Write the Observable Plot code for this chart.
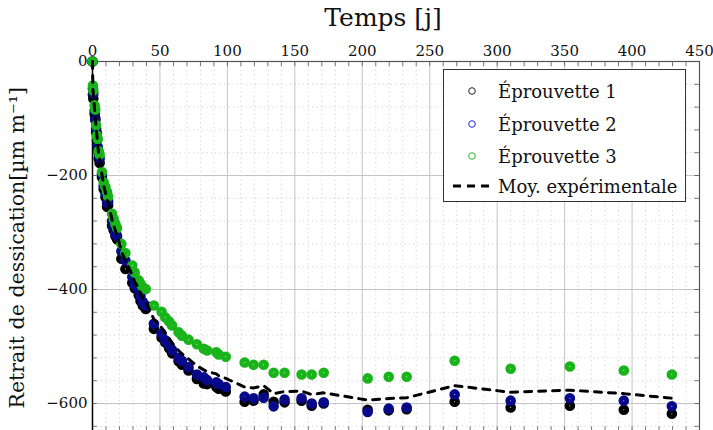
<!DOCTYPE html>
<html><head><meta charset="utf-8">
<script src="https://cdn.jsdelivr.net/npm/d3@7"></script>
<script src="https://cdn.jsdelivr.net/npm/@observablehq/plot@0.6"></script>
<style>
html,body{margin:0;padding:0;background:#fff;}
#wrap{position:relative;width:713px;height:430px;overflow:hidden;}
#legend{position:absolute;left:443px;top:69px;width:243px;height:133px;border:1px solid #333;background:#fff;box-sizing:border-box;font-family:"DejaVu Serif",serif;font-size:18px;color:#111;}
#legend .row{position:absolute;left:0;height:30px;display:flex;align-items:center;}
#legend svg{position:absolute;left:6px;}
#legend span{position:absolute;left:54px;white-space:nowrap;}
</style></head>
<body><div id="wrap"></div>
<script>
// Time (days)
const temps = [0, 0.3, 0.6, 1.6, 2.1, 2.7, 3.3, 3.9, 4.6, 5.3, 7, 8.3, 9.6, 10.8, 11.6, 14.5, 15.7, 17, 18.2, 21.4, 24.4,
  29.5, 31.3, 34.3, 35.6, 37.3, 39.5, 45.5, 51.2, 54, 56.8, 59, 63.8, 66.3, 71.2, 77.4, 82.5, 85, 91.8, 93.5, 98.8,
  112.8, 119.4, 126.9, 134.3, 142.4, 155, 162.5, 171.4, 204, 219.6, 232.9, 268.5, 310, 353.9, 393.9, 429.5];
// Éprouvette 1 (black)
const eprouvette1 = [0, -58, -65, -92, -100, -124, -138, -154, -170, -178, -203, -224, -238, -255, -252, -288, -296, -306, -312, -346, -364,
  -388, -398, -410, -420, -428, -434, -469, -484, -493, -503, -512, -526, -532, -542, -557, -565, -566, -571, -574, -579,
  -597, -595, -584, -597, -598, -595, -604, -600, -611, -612, -610, -597, -607, -604, -611, -618];
// Éprouvette 2 (blue)
const eprouvette2 = [0, -48, -56, -86, -103, -118, -126, -150, -162, -170, -198, -218, -232, -248, -246, -280, -290, -302, -306, -333, -349,
  -378, -392, -400, -412, -422, -428, -460, -477, -489, -498, -506, -520, -525, -536, -549, -554, -559, -563, -566, -571,
  -588, -591, -590, -605, -593, -591, -600, -598, -615, -609, -607, -584, -595, -591, -595, -605];
// Éprouvette 3 (green)
const eprouvette3 = [0, -42, -51, -77, -84, -112, -130, -136, -157, -163, -194, -212, -220, -229, -237, -267, -276, -285, -292, -320, -336,
  -358, -370, -384, -390, -396, -399, -428, -439, -449, -456, -463, -475, -481, -488, -496, -504, -507, -510, -514, -518,
  -528, -532, -532, -546, -546, -549, -549, -546, -556, -553, -553, -525, -539, -535, -542, -549];

const seriesNames = ["Éprouvette 1", "Éprouvette 2", "Éprouvette 3"];
const seriesColors = ["#000000", "#08088a", "#19b419"];
const xMajor = [0, 50, 100, 150, 200, 250, 300, 350, 400, 450];
const yMajor = [0, -200, -400, -600];

const series = [eprouvette1, eprouvette2, eprouvette3];
const rows = [];
series.forEach((vals, s) => vals.forEach((v, i) => rows.push({t: temps[i], v, s: seriesNames[s]})));
const moyenne = temps.map((t, i) => ({t, v: d3.mean(series, a => a[i])}));

const xMinor = d3.range(0, 451, 10).filter(d => d % 50 !== 0);
const yMinor = d3.range(-640, 0, 40).filter(d => d % 200 !== 0);
const xAllTicks = d3.range(0, 451, 10);
const yAllTicks = d3.range(-640, 1, 40);
const fmt = d => d < 0 ? "\u2212" + (-d) : String(d);

const chart = Plot.plot({
  width: 713, height: 432,
  marginLeft: 92, marginRight: 14, marginTop: 61, marginBottom: 0.5,
  x: {domain: [0, 450]},
  y: {domain: [-650, 0]},
  style: {fontFamily: "DejaVu Serif, serif", fontSize: "15px", background: "white", color: "#111"},
  marks: [
    Plot.ruleX(xMinor, {stroke: "#bcbcbc", strokeDasharray: "1,3.4", strokeWidth: 0.8}),
    Plot.ruleY(yMinor, {stroke: "#bcbcbc", strokeDasharray: "1,3.4", strokeWidth: 0.8}),
    Plot.ruleX(xMajor, {stroke: "#c4c4c4", strokeWidth: 1}),
    Plot.ruleY(yMajor, {stroke: "#c4c4c4", strokeWidth: 1}),
    // inward ticks on all four sides
    Plot.ruleX(xAllTicks, {y1: 0, y2: -9, stroke: "#555", strokeWidth: 0.8}),
    Plot.ruleX(xAllTicks, {y1: -650, y2: -641, stroke: "#555", strokeWidth: 0.8}),
    Plot.ruleY(yAllTicks, {x1: 0, x2: 3.5, stroke: "#555", strokeWidth: 0.8}),
    Plot.ruleY(yAllTicks, {x1: 450, x2: 446.5, stroke: "#555", strokeWidth: 0.8}),
    Plot.frame({stroke: "#555", strokeWidth: 1.2}),
    Plot.ruleX([0], {stroke: "#000", strokeWidth: 1.4}),
    Plot.axisX(xMajor, {anchor: "top", tickSize: 0, tickPadding: 6, tickFormat: fmt, label: null, fontSize: 15}),
    Plot.axisY(yMajor, {anchor: "left", tickSize: 0, tickPadding: 5, tickFormat: fmt, label: null, fontSize: 15}),
    Plot.text(["Temps [j]"], {frameAnchor: "top", dy: -44, dx: -13, fontSize: 25, lineAnchor: "middle", textAnchor: "middle"}),
    Plot.text(["Retrait de dessication[\u00b5m m\u207b\u00b9]"], {frameAnchor: "left", dx: -75, dy: 1, rotate: -90, fontSize: 20.5, lineAnchor: "middle", textAnchor: "middle"}),
    Plot.dot(rows, {x: "t", y: "v", r: 2.9, fill: "none", stroke: "s", strokeWidth: 4.8}),
    Plot.line(moyenne, {x: "t", y: "v", stroke: "#000", strokeWidth: 3, strokeDasharray: "7,7"})
  ],
  color: {domain: seriesNames, range: seriesColors}
});
document.getElementById("wrap").appendChild(chart);

const leg = document.createElement("div");
leg.id = "legend";
const entries = [
  {label: "Éprouvette 1", color: "#222", type: "dot"},
  {label: "Éprouvette 2", color: "#2323c8", type: "dot"},
  {label: "Éprouvette 3", color: "#22c422", type: "dot"},
  {label: "Moy. expérimentale", color: "#000", type: "line"}
];
const tops = [6, 39, 71, 101];
entries.forEach((e, i) => {
  const row = document.createElement("div");
  row.className = "row";
  row.style.top = tops[i] + "px";
  row.style.width = "100%";
  const sym = e.type === "dot"
    ? `<svg width="44" height="30"><circle cx="22" cy="15" r="3.3" fill="none" stroke="${e.color}" stroke-width="1"/></svg>`
    : `<svg width="44" height="30"><line x1="3" x2="43" y1="15" y2="15" stroke="#000" stroke-width="3" stroke-dasharray="8,6"/></svg>`;
  row.innerHTML = sym + `<span>${e.label}</span>`;
  leg.appendChild(row);
});
document.getElementById("wrap").appendChild(leg);
</script></body></html>
